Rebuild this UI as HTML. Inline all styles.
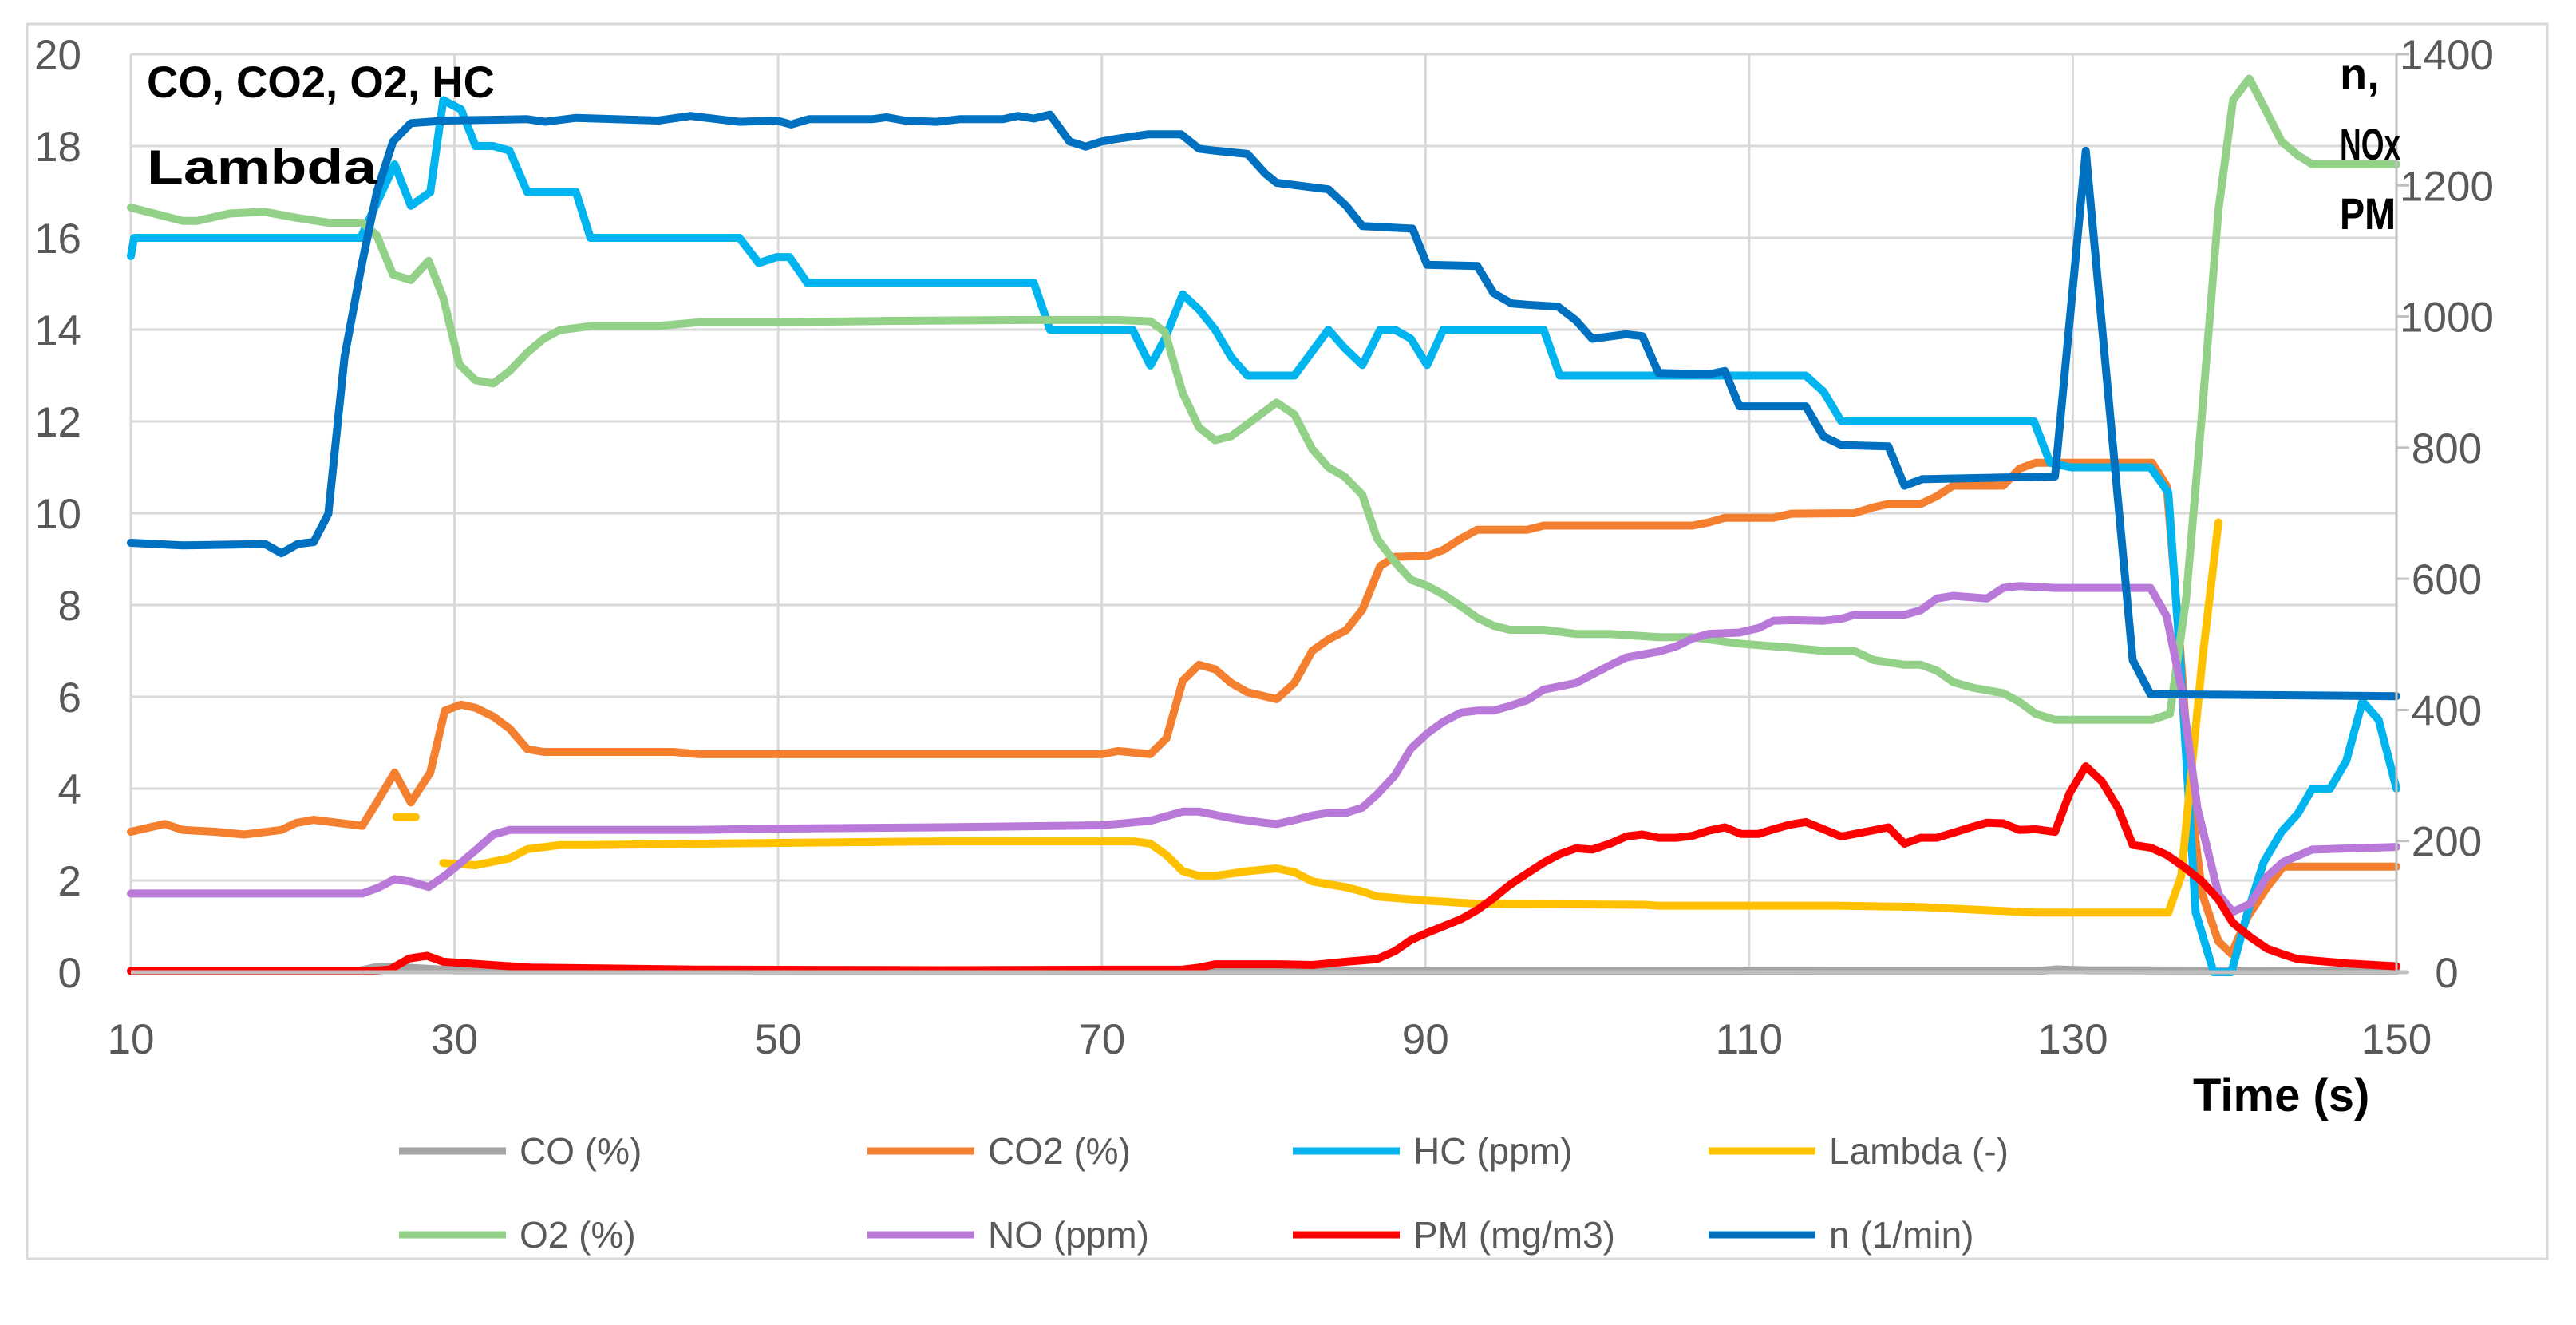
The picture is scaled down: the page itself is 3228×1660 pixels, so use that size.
<!DOCTYPE html>
<html><head><meta charset="utf-8"><style>
html,body{margin:0;padding:0;background:#fff;}
svg{display:block;font-family:"Liberation Sans",sans-serif;}
</style></head><body>
<svg id="chart" width="3228" height="1660" viewBox="0 0 3228 1660" xmlns="http://www.w3.org/2000/svg">
<rect x="0" y="0" width="3228" height="1660" fill="#fff"/>
<rect x="34" y="30" width="3158" height="1547" fill="none" stroke="#d9d9d9" stroke-width="3"/>
<g id="grid"></g>
<g id="series"></g>
<g id="axes"></g>
<text x="184" y="122" font-size="56" font-weight="bold" fill="#000" textLength="436" lengthAdjust="spacingAndGlyphs">CO, CO2, O2, HC</text>
<text x="184" y="230" font-size="60" font-weight="bold" fill="#000" textLength="288" lengthAdjust="spacingAndGlyphs">Lambda</text>
<text x="2932" y="112" font-size="56" font-weight="bold" fill="#000">n,</text>
<text x="2932" y="200" font-size="56" font-weight="bold" fill="#000" textLength="76" lengthAdjust="spacingAndGlyphs">NOx</text>
<text x="2932" y="287" font-size="56" font-weight="bold" fill="#000" textLength="70" lengthAdjust="spacingAndGlyphs">PM</text>
<text x="2748" y="1392" font-size="58" font-weight="bold" fill="#000">Time (s)</text>
<g id="legend"></g>
</svg>
<script>
const xTicks=[10,30,50,70,90,110,130,150];
const yTicksLeft=[0,2,4,6,8,10,12,14,16,18,20];
const yTicksRight=[0,200,400,600,800,1000,1200,1400];
const coT=[10,24,25,26,28,30,128,129,131,150];
const coV=[0.02,0.02,0.1,0.12,0.08,0.04,0.03,0.06,0.04,0.03];
const co2T=[10,12.1,13.2,15.2,17,19.3,20.2,21.3,24.3,25.2,26.3,27.3,28.5,29.4,30.4,31.3,32.4,33.4,34.5,35.5,43.5,45.1,70,71,73,74,75,76,77,78,79,80.8,81.9,83,84,85.1,86.1,87.2,88.1,90.1,91.1,92.2,93.2,96.3,97.3,106.5,107.5,108.5,111.5,112.6,116.5,117.7,118.6,120.6,121.6,122.6,125.7,126.7,127.7,134.9,135.8,136.6,137.4,138,139,139.8,140.8,142,143,150];
const co2V=[3.06,3.23,3.1,3.06,3.0,3.1,3.25,3.32,3.19,3.7,4.35,3.7,4.35,5.7,5.83,5.76,5.57,5.31,4.86,4.8,4.8,4.75,4.75,4.82,4.75,5.1,6.35,6.7,6.6,6.3,6.1,5.95,6.3,7.0,7.25,7.45,7.9,8.85,9.05,9.07,9.2,9.45,9.64,9.64,9.73,9.73,9.8,9.9,9.9,9.99,10.0,10.13,10.2,10.2,10.37,10.6,10.6,10.97,11.1,11.1,10.6,7.2,3.4,1.7,0.67,0.4,1.2,1.85,2.3,2.3];
const hcT=[10,10.2,24.2,26.3,27.3,28.5,29.3,30.4,31.3,32.4,33.4,34.5,37.5,38.4,47.6,48.8,49.9,50.7,51.8,65.8,66.8,71.9,73,73.9,75,76,77,78,79,81.9,84,85,86.1,87.2,88.1,89.1,90.1,91.1,97.3,98.3,113.5,114.6,115.7,127.6,128.6,129.9,134.8,135.9,136.6,137.6,138.7,139.8,140.8,141.8,142.9,143.9,144.8,145.9,146.9,147.9,148.9,150];
const hcV=[15.6,16,16,17.6,16.7,17,19,18.8,18,18,17.9,17,17,16,16,15.45,15.58,15.58,15.02,15.02,14,14,13.22,13.8,14.77,14.44,14,13.4,13,13,14,13.6,13.23,14,14,13.8,13.23,14,14,13,13,12.65,12,12,11.1,11,11,10.45,7,1.3,0,0,1.3,2.4,3.06,3.45,4,4,4.6,5.9,5.5,4];
const lamSegT=[26.4,27.6];
const lamSegV=[3.38,3.38];
const lamT=[29.3,31.3,33.4,34.5,36.5,38.5,45.1,60,72,73,74,75,76,77,79,80.8,81.9,83,85.1,86.1,87,90.1,93.2,103.5,104.4,115.4,120.6,124.7,127.7,135.9,136.7,138,139];
const lamV=[2.38,2.33,2.48,2.68,2.77,2.77,2.8,2.85,2.85,2.8,2.55,2.2,2.1,2.1,2.2,2.26,2.18,1.98,1.85,1.76,1.65,1.56,1.49,1.47,1.45,1.45,1.42,1.35,1.3,1.3,2.1,6.8,9.8];
const o2T=[10,13.2,14.1,16.1,18.2,20.2,22.2,24.3,25.2,26.2,27.3,28.4,29.3,30.3,31.3,32.4,33.4,34.5,35.5,36.5,38.5,42.6,45.1,49.9,56.7,65.7,70.9,73,73.9,75,76,77,78,79,80.8,81.9,83,84,85,86.1,87,88.1,89.1,90.1,91.1,92.2,93.2,94.2,95.2,97.3,99.3,101.4,104.4,106.5,109.4,112.6,114.6,116.5,117.7,119.6,120.6,121.6,122.6,123.8,125.7,126.7,127.7,128.9,134.9,136,137,138,139,139.9,140.9,141.8,142.9,143.9,144.8,150];
const o2V=[16.66,16.37,16.37,16.53,16.57,16.44,16.33,16.33,16.05,15.2,15.08,15.5,14.7,13.24,12.9,12.83,13.1,13.5,13.8,13.99,14.08,14.08,14.16,14.16,14.19,14.21,14.21,14.18,13.95,12.62,11.87,11.59,11.68,11.94,12.41,12.15,11.4,11.0,10.8,10.4,9.45,8.94,8.55,8.42,8.23,7.97,7.72,7.55,7.46,7.46,7.37,7.37,7.3,7.3,7.16,7.07,7.0,7.0,6.8,6.7,6.7,6.57,6.32,6.2,6.08,5.89,5.63,5.5,5.5,5.63,8.14,12.25,16.6,19.0,19.47,18.87,18.1,17.8,17.6,17.6];
const noT=[10,24.3,25.3,26.3,27.3,28.4,29.4,30.4,31.4,32.4,33.4,45,50,60,70,73,75,76,78,80,80.8,81.9,83,84,85.1,86.1,87,88.1,89.1,90.1,91.1,92.2,93.2,94.2,95.2,96.3,97.3,99.3,100.3,101.4,102.4,104.4,105.5,106.5,107.5,109.4,110.6,111.5,112.6,114.6,115.7,116.5,119.6,120.6,121.6,122.6,124.7,125.7,126.7,128.9,134.8,135.8,136.7,137.7,139,139.9,141,142,143,144.8,150];
const noV=[120,120,129,142,138,130,147,167,188,210,217,217,219,221,224,231,245,245,235,228,226,232,239,243,243,251,271,300,341,364,382,396,399,399,406,415,431,441,454,468,480,489,497,509,516,518,525,536,537,536,539,545,545,552,570,574,570,586,589,586,586,543,434,250,119,92,105,146,168,187,191];
const pmT=[10,25,26,27.2,28.3,29.3,34.7,45,60,75,76,77,81,83,85.1,87,88.1,89.1,90.1,91.1,92.2,93.2,94.2,95.2,96.3,97.3,98.3,99.3,100.3,101.4,102.4,103.4,104.4,105.5,106.5,107.5,108.5,109.5,110.6,111.5,112.5,113.5,114.6,115.7,118.6,119.6,120.6,121.6,123.7,124.7,125.7,126.7,127.7,128.9,129.8,130.8,131.8,132.8,133.7,134.8,135.8,136.9,138,139,139.9,141,142,143,143.9,147.1,150];
const pmV=[2,2,4,21,25,16,7,4,3,4,7,12,12,11,16,20,32,49,60,70,81,95,113,133,151,167,180,189,187,196,207,210,205,205,208,216,221,211,211,218,225,229,218,207,221,196,205,205,221,228,227,217,218,214,273,314,291,250,194,190,179,160,138,111,75,53,36,27,20,13,9];
const nT=[10,13.2,18.3,19.3,20.3,21.3,22.2,23.2,24.2,25.2,26.2,27.3,29.5,34.5,35.6,37.5,42.6,44.6,47.6,49.9,50.8,51.9,55.8,56.7,57.8,59.8,61.2,63.9,64.8,65.8,66.8,68,69,70,70.9,72.9,74.9,76,77,79,80.1,80.8,84,85.1,86.1,89.2,90.1,93.2,94.2,95.3,96.3,98.2,99.3,100.3,102.4,103.4,104.4,107.5,108.5,109.4,113.5,114.6,115.7,118.6,119.6,120.7,128.9,130.8,133.7,134.8,150];
const nV=[655,651,653,639,653,656,699,938,1071,1190,1267,1295,1299,1301,1297,1303,1299,1306,1297,1299,1293,1301,1301,1304,1299,1297,1301,1301,1306,1302,1308,1267,1259,1267,1271,1278,1278,1256,1253,1248,1218,1204,1194,1169,1138,1134,1079,1077,1036,1020,1018,1015,994,966,973,970,914,912,917,863,863,817,804,802,742,752,756,1253,476,424,421];
const legendNames=["CO (%)","CO2 (%)","HC  (ppm)","Lambda  (-)","O2 (%)","NO  (ppm)","PM (mg/m3)","n (1/min)"];

const NS="http://www.w3.org/2000/svg";
const X0=164,X1=3003,Y0=1218,YT=68;
function xs(t){return X0+(t-10)*(X1-X0)/140;}
function yl(v){return Y0-v*(Y0-YT)/20;}
function yr(v){return Y0-v*(Y0-YT)/1400;}
function mk(tag,attrs,parent){const e=document.createElementNS(NS,tag);for(const k in attrs)e.setAttribute(k,attrs[k]);parent.appendChild(e);return e;}
const grid=document.getElementById('grid'),axes=document.getElementById('axes'),ser=document.getElementById('series'),leg=document.getElementById('legend');
yTicksLeft.forEach(v=>{
  if(v>0){const l=mk('line',{x1:X0,x2:X1,y1:yl(v),y2:yl(v),stroke:'#d9d9d9','stroke-width':3},grid);
  
  }
  const t=mk('text',{x:102,y:yl(v)+19,'text-anchor':'end','font-size':53,fill:'#595959'},axes);
  
  
  t.textContent=v;
});
xTicks.forEach(v=>{
  if(v>10){const l=mk('line',{x1:xs(v),x2:xs(v),y1:YT,y2:Y0,stroke:'#d9d9d9','stroke-width':3},grid);
  
  }
  const t=mk('text',{x:xs(v),y:1320,'text-anchor':'middle','font-size':53,fill:'#595959'},axes);
  
  
  t.textContent=v;
});
const la=mk('line',{x1:X0,x2:X0,y1:YT,y2:Y0,stroke:'#d9d9d9','stroke-width':3},grid);


const ra=mk('line',{x1:X1,x2:X1,y1:YT,y2:Y0,stroke:'#bfbfbf','stroke-width':3},axes);


const xa=mk('line',{x1:X0,x2:X1+14,y1:Y0,y2:Y0,stroke:'#bfbfbf','stroke-width':5},axes);


yTicksRight.forEach(v=>{
  const tk=mk('line',{x1:X1,x2:X1+16,y1:yr(v),y2:yr(v),stroke:'#bfbfbf','stroke-width':3},axes);
  
  
  const t=mk('text',{x:3066,y:yr(v)+19,'text-anchor':'middle','font-size':53,fill:'#595959'},axes);
  
  
  t.textContent=v;
});
function draw(T,V,fy,color,name){
  const pts=T.map((t,i)=>xs(t).toFixed(1)+','+fy(V[i]).toFixed(1)).join(' ');
  const p=mk('polyline',{points:pts,fill:'none',stroke:color,'stroke-width':10,'stroke-linejoin':'round','stroke-linecap':'round'},ser);
  
  
}
const colors=['#a5a5a5','#f47f2f','#00b4ef','#ffc000','#93d088','#b879d9','#ff0000','#0070c0'];
draw(coT,coV,yl,colors[0],'co-line');
draw(co2T,co2V,yl,colors[1],'co2-line');
draw(hcT,hcV,yl,colors[2],'hc-line');
draw(lamSegT,lamSegV,yl,colors[3],'lambda-line-segment');
draw(lamT,lamV,yl,colors[3],'lambda-line');
draw(o2T,o2V,yl,colors[4],'o2-line');
draw(noT,noV,yr,colors[5],'no-line');
draw(pmT,pmV,yr,colors[6],'pm-line');
draw(nT,nV,yr,colors[7],'n-line');
const lx=[500,1087,1620,2141],ly=[1442,1547];
legendNames.forEach((nm,i)=>{
  const x=lx[i%4],y=ly[Math.floor(i/4)];
  const l=mk('line',{x1:x,x2:x+134,y1:y,y2:y,stroke:colors[i],'stroke-width':9},leg);
  
  
  const t=mk('text',{x:x+151,y:y+16,'font-size':46,fill:'#595959'},leg);
  
  
  t.setAttribute('xml:space','preserve');
  t.textContent=nm;
});
</script>
</body></html>
